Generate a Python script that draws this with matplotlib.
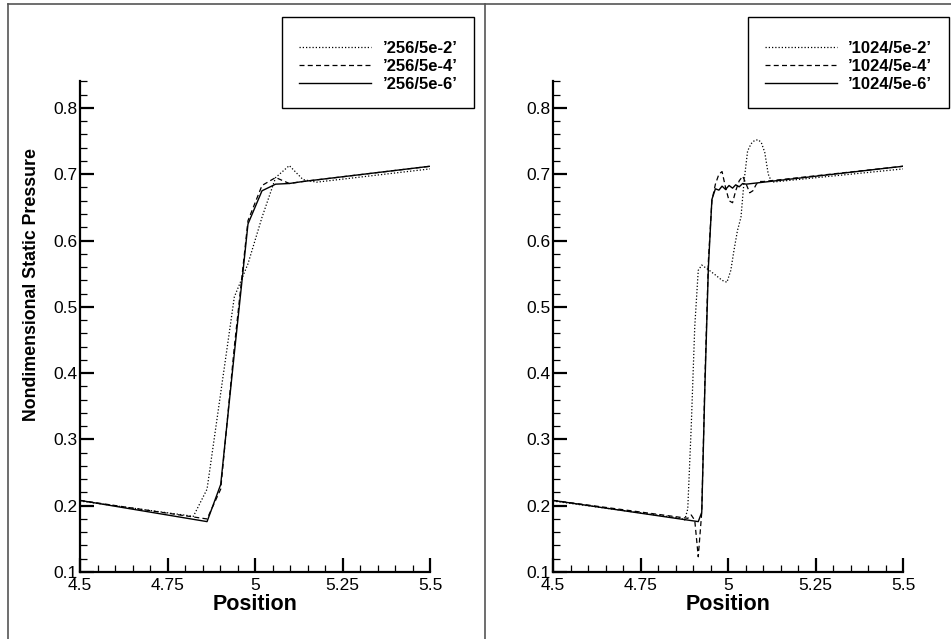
#!/usr/bin/env python3

# Static pressure across the shock for two grids (256 and 1024 cells)
# and three time step tolerances, side by side

import matplotlib
matplotlib.use("Agg")
import matplotlib.pyplot as plt
from matplotlib.lines import Line2D
from matplotlib.ticker import MultipleLocator

plt.rcParams['font.family'] = ['Liberation Sans', 'DejaVu Sans']

# ---- data ----

# 256 cell grid
x256_2 = [4.5, 4.824, 4.863, 4.902, 4.941, 4.98, 5.02, 5.059, 5.098, 5.137, 5.176, 5.5]
y256_2 = [0.207, 0.184, 0.225, 0.37, 0.515, 0.565, 0.635, 0.695, 0.713, 0.692, 0.688, 0.708]

x256_4 = [4.5, 4.863, 4.902, 4.941, 4.98, 5.02, 5.059, 5.098, 5.137, 5.5]
y256_4 = [0.208, 0.18, 0.225, 0.44, 0.63, 0.683, 0.695, 0.686, 0.689, 0.712]

x256_6 = [4.5, 4.863, 4.902, 4.941, 4.98, 5.02, 5.059, 5.098, 5.137, 5.5]
y256_6 = [0.208, 0.176, 0.232, 0.43, 0.625, 0.675, 0.685, 0.686, 0.689, 0.712]

# 1024 cell grid
x1024_2 = [4.5, 4.866, 4.876, 4.885, 4.895, 4.905, 4.915, 4.925, 4.944, 4.964,
           4.983, 4.997, 5.008, 5.017, 5.027, 5.037, 5.046, 5.056, 5.066, 5.076,
           5.086, 5.095, 5.105, 5.115, 5.125, 5.5]
y1024_2 = [0.207, 0.181, 0.178, 0.195, 0.32, 0.47, 0.555, 0.563, 0.556, 0.548,
           0.54, 0.537, 0.555, 0.585, 0.615, 0.635, 0.69, 0.735, 0.746, 0.751,
           0.752, 0.748, 0.733, 0.70, 0.688, 0.708]

x1024_4 = [4.5, 4.885, 4.895, 4.905, 4.915, 4.925, 4.934, 4.944, 4.954, 4.964,
           4.974, 4.983, 4.993, 5.003, 5.013, 5.022, 5.032, 5.042, 5.052, 5.062,
           5.071, 5.081, 5.091, 5.101, 5.5]
y1024_4 = [0.208, 0.181, 0.186, 0.178, 0.123, 0.19, 0.39, 0.57, 0.66, 0.685,
           0.70, 0.704, 0.68, 0.66, 0.657, 0.675, 0.69, 0.697, 0.685, 0.672,
           0.675, 0.685, 0.689, 0.689, 0.712]

x1024_6 = [4.5, 4.915, 4.925, 4.934, 4.944, 4.954, 4.964, 4.974, 4.983, 4.993,
           5.003, 5.013, 5.022, 5.032, 5.042, 5.052, 5.5]
y1024_6 = [0.208, 0.176, 0.19, 0.38, 0.56, 0.662, 0.678, 0.676, 0.682, 0.677,
           0.683, 0.679, 0.684, 0.681, 0.686, 0.685, 0.712]

labels256 = ["\u2019256/5e-2\u2019", "\u2019256/5e-4\u2019", "\u2019256/5e-6\u2019"]
labels1024 = ["\u20191024/5e-2\u2019", "\u20191024/5e-4\u2019", "\u20191024/5e-6\u2019"]

xTicks = [4.5, 4.75, 5, 5.25, 5.5]
xTickLabels = ["4.5", "4.75", "5", "5.25", "5.5"]

W, H = 951, 639


# Draws one panel: three curves, axes styled like the original plot
def makePanel(fig, left, xs, ys, labels, legendRight, showYLabel):
    ax = fig.add_axes([left / W, 67 / H, 350 / W, 490.6 / H])

    styles = [dict(linestyle=(0, (1, 1.6)), linewidth=0.9),
              dict(linestyle=(0, (4, 2.6)), linewidth=0.9),
              dict(linestyle='-', linewidth=1.0)]
    for x, y, lab, st in zip(xs, ys, labels, styles):
        ax.plot(x, y, color='black', label=lab, **st)

    ax.set_xlim(4.5, 5.5)
    ax.set_ylim(0.1, 0.84)
    ax.set_xticks(xTicks)
    ax.set_xticklabels(xTickLabels)
    ax.yaxis.set_major_locator(MultipleLocator(0.1))
    ax.yaxis.set_minor_locator(MultipleLocator(0.02))
    ax.xaxis.set_minor_locator(MultipleLocator(0.05))

    # Only left and bottom axis lines, ticks pointing inwards
    for side in ['top', 'right']:
        ax.spines[side].set_visible(False)
    for side in ['left', 'bottom']:
        ax.spines[side].set_linewidth(1.6)
    ax.tick_params(which='major', direction='in', length=10, width=1.6,
                   labelsize=12.5)
    ax.tick_params(axis='x', which='major', pad=4)
    ax.tick_params(axis='y', which='major', pad=2)
    ax.tick_params(which='minor', direction='in', length=5, width=0.9)

    ax.set_xlabel("Position", fontsize=15.5, fontweight='bold', labelpad=1)
    if showYLabel:
        # the label sits a bit above the middle of the axis, as in the original
        ax.set_ylabel("Nondimensional Static Pressure", fontsize=12.8,
                      fontweight='bold')
        ax.yaxis.set_label_coords(-0.114, 0.587)

    # a tiny blank title gives the extra room above the entries
    leg = ax.legend(loc='upper right', bbox_to_anchor=(legendRight / W, 1 - 17 / H),
                    bbox_transform=fig.transFigure, borderaxespad=0,
                    fancybox=False, edgecolor='black', framealpha=1,
                    prop={'weight': 'bold', 'size': 12},
                    title=' ', title_fontsize=3,
                    handlelength=4.3, handletextpad=0.7, labelspacing=0.18,
                    borderpad=1.0)
    leg.get_frame().set_linewidth(1.0)
    return ax


fig = plt.figure(figsize=(W / 100, H / 100), dpi=100)

makePanel(fig, 80, [x256_2, x256_4, x256_6], [y256_2, y256_4, y256_6],
          labels256, 474, True)
makePanel(fig, 553, [x1024_2, x1024_4, x1024_6], [y1024_2, y1024_4, y1024_6],
          labels1024, 949, False)

# Frame around the two panels
frameColor = '#555555'
fig.add_artist(Line2D([8 / W, 1], [1 - 4 / H, 1 - 4 / H], transform=fig.transFigure,
                      color=frameColor, linewidth=1.2))
fig.add_artist(Line2D([8 / W, 8 / W], [0, 1 - 4 / H], transform=fig.transFigure,
                      color=frameColor, linewidth=1.2))
fig.add_artist(Line2D([485 / W, 485 / W], [0, 1 - 4 / H], transform=fig.transFigure,
                      color=frameColor, linewidth=1.2))

fig.savefig("out.png", dpi=100)
